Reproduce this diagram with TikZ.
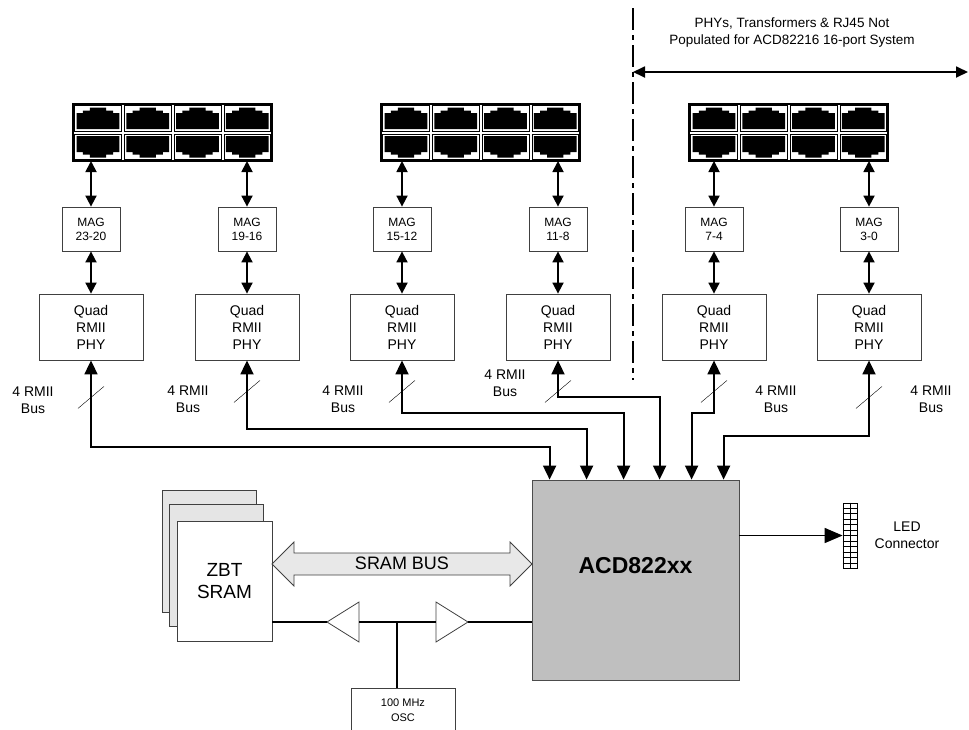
\documentclass[tikz,border=0pt]{standalone}
\usepackage{fontspec}
\setmainfont{Liberation Sans}
\usetikzlibrary{arrows.meta, calc}

\tikzset{
    magbox/.style={draw=black!75, line width=0.8pt, fill=white, minimum width=58pt, minimum height=44pt,
        inner sep=0pt, align=center, font=\fontsize{12}{14}\selectfont},
    phybox/.style={draw=black!75, line width=0.8pt, fill=white, minimum width=104pt, minimum height=66pt,
        inner sep=0pt, align=center, font=\fontsize{14}{17}\selectfont},
    acdbox/.style={draw=black!70, line width=0.8pt, fill=black!25, minimum width=207pt, minimum height=200pt, inner sep=0pt},
    sheet/.style={draw=black!75, line width=0.8pt, fill=black!10},
    srambox/.style={draw=black!75, line width=0.8pt, fill=white, minimum width=95pt, minimum height=120pt,
        inner sep=0pt, align=center, font=\fontsize{19}{22}\selectfont},
    oscbox/.style={draw=black!75, line width=0.8pt, fill=white, minimum width=104pt, minimum height=44pt,
        inner sep=0pt, align=center, font=\fontsize{11}{15}\selectfont},
    txt/.style={align=center, inner sep=0pt, font=\fontsize{14}{17}\selectfont},
    bus/.style={line width=1.8pt, {Triangle[length=14pt,width=13pt]}-{Triangle[length=14pt,width=13pt]}},
    link/.style={line width=1.8pt, <->},
    wire/.style={line width=1.6pt}
}

\begin{document}
\begin{tikzpicture}[x=1pt, y=-1pt, >={Triangle[length=11pt,width=11pt]}]
    \useasboundingbox (0, 0) rectangle (969, 729);

    % RJ45 jacks
    \foreach \bx in {73, 381, 689}
    {
        \draw[line width=1.2pt] (\bx, 104) rectangle ++(199, 57);
        \foreach \c in {0, 1, 2, 3}
        {
            \begin{scope}[shift={(\bx + \c*49.75, 104)}]
                \draw[thin] (1.5, 1.5) rectangle (48.25, 27);
                \draw[thin] (1.5, 30) rectangle (48.25, 55.5);
                \fill (3.5, 25) -- (46.25, 25) -- (46.25, 9) -- (40, 9) -- (40, 6.5) -- (33, 6.5) -- (33, 3.5)
                    -- (16.75, 3.5) -- (16.75, 6.5) -- (9.75, 6.5) -- (9.75, 9) -- (3.5, 9) -- cycle;
                \fill (3.5, 32) -- (46.25, 32) -- (46.25, 48) -- (40, 48) -- (40, 50.5) -- (33, 50.5) -- (33, 53.5)
                    -- (16.75, 53.5) -- (16.75, 50.5) -- (9.75, 50.5) -- (9.75, 48) -- (3.5, 48) -- cycle;
            \end{scope}
        }
    }

    % switch chip
    \node[acdbox] (acd) at (635.5, 580) {};
    \node[font=\bfseries\fontsize{23}{26}\selectfont] (acdname) at (635.5, 566) {ACD822xx};
    \foreach \i/\dx in {1/18, 2/55, 3/92, 4/128, 5/160, 6/192}
        \coordinate (in\i) at ([xshift=\dx pt]acd.north west);

    % port columns
    \foreach \i/\cx/\mg/\lvl/\sl/\lx/\ly in {1/91/23-20/447/37/33/400, 2/247/19-16/429/31/188/399,
        3/402/15-12/413/31/343/399, 4/558/11-8/397/31/505/383, 5/714/7-4/413/31/776/399, 6/869/3-0/436/37/931/399}
    {
        \coordinate (rj\i) at (\cx, 161);
        \node[magbox] (mag\i) at (\cx, 229) {MAG\\\mg};
        \node[phybox] (phy\i) at (\cx, 327) {Quad\\RMII\\PHY};
        \draw[link] (rj\i) -- (mag\i.north);
        \draw[link] (mag\i.south) -- (phy\i.north);
        \draw[bus] (phy\i.south) -- (phy\i.south |- 0, \lvl) -| (in\i);
        \draw[thin] ($(phy\i.south) + (-13, \sl + 11)$) -- ++(26, -22);
        \node[txt] (bl\i) at (\lx, \ly) {4 RMII\\Bus};
    }

    % 16-port divider
    \coordinate (divtop) at (633, 8);
    \coordinate (divbot) at (633, 380);
    \draw[line width=1.4pt, dash pattern=on 22pt off 5pt on 5pt off 5pt] (divtop) -- (divbot);
    \coordinate (spanl) at (633, 72);
    \coordinate (spanr) at (968, 72);
    \draw[link, >={Triangle[length=12pt,width=11pt]}] (spanl) -- (spanr);
    \node[txt, font=\fontsize{13.5}{17}\selectfont] (note) at (792, 33)
        {PHYs, Transformers \& RJ45 Not\\Populated for ACD82216 16-port System};

    % LED connector
    \node[draw, line width=0.8pt, minimum width=14pt, minimum height=65pt, inner sep=0pt] (led) at (850, 535.5) {};
    \draw[thin] (led.north) -- (led.south);
    \foreach \r in {1, ..., 11}
        \draw[thin] ($(led.north west)!\r/12!(led.south west)$) -- ($(led.north east)!\r/12!(led.south east)$);
    \draw[wire, ->, >={Triangle[length=18pt,width=15pt]}] (acd.east |- led.west) -- (led.west);
    \node[txt] (ledlab) at (907, 535) {LED\\Connector};

    % SRAM stack
    \filldraw[sheet] (162, 490) rectangle (256, 612);
    \filldraw[sheet] (169, 504) rectangle (263, 626);
    \node[srambox] (sram) at (224.5, 581) {ZBT\\SRAM};

    % SRAM bus
    \filldraw[sheet, fill=black!9] (272, 564) -- (294, 542) -- (294, 553) -- (510, 553) -- (510, 542) -- (532, 564)
        -- (510, 586) -- (510, 575) -- (294, 575) -- (294, 586) -- cycle;
    \node[txt, font=\fontsize{18}{20}\selectfont] (busname) at (402, 563) {SRAM BUS};

    % clock
    \node[oscbox] (osc) at (403, 710) {100 MHz\\OSC};
    \coordinate (tap) at (397, 622);
    \coordinate (bufl) at (327, 622);
    \coordinate (bufr) at (468, 622);
    \draw[line width=0.8pt, draw=black!75] (bufl) -- ++(32, -20) -- ++(0, 40) -- cycle;
    \draw[line width=0.8pt, draw=black!75] (bufr) -- ++(-32, -20) -- ++(0, 40) -- cycle;
    \draw[wire] (sram.east |- bufl) -- (bufl);
    \draw[wire] (bufl) ++(32, 0) -- ([xshift=-32pt]bufr);
    \draw[wire] (bufr) -- (acd.west |- bufr);
    \draw[wire] (tap) -- (tap |- osc.north);
\end{tikzpicture}
\end{document}
